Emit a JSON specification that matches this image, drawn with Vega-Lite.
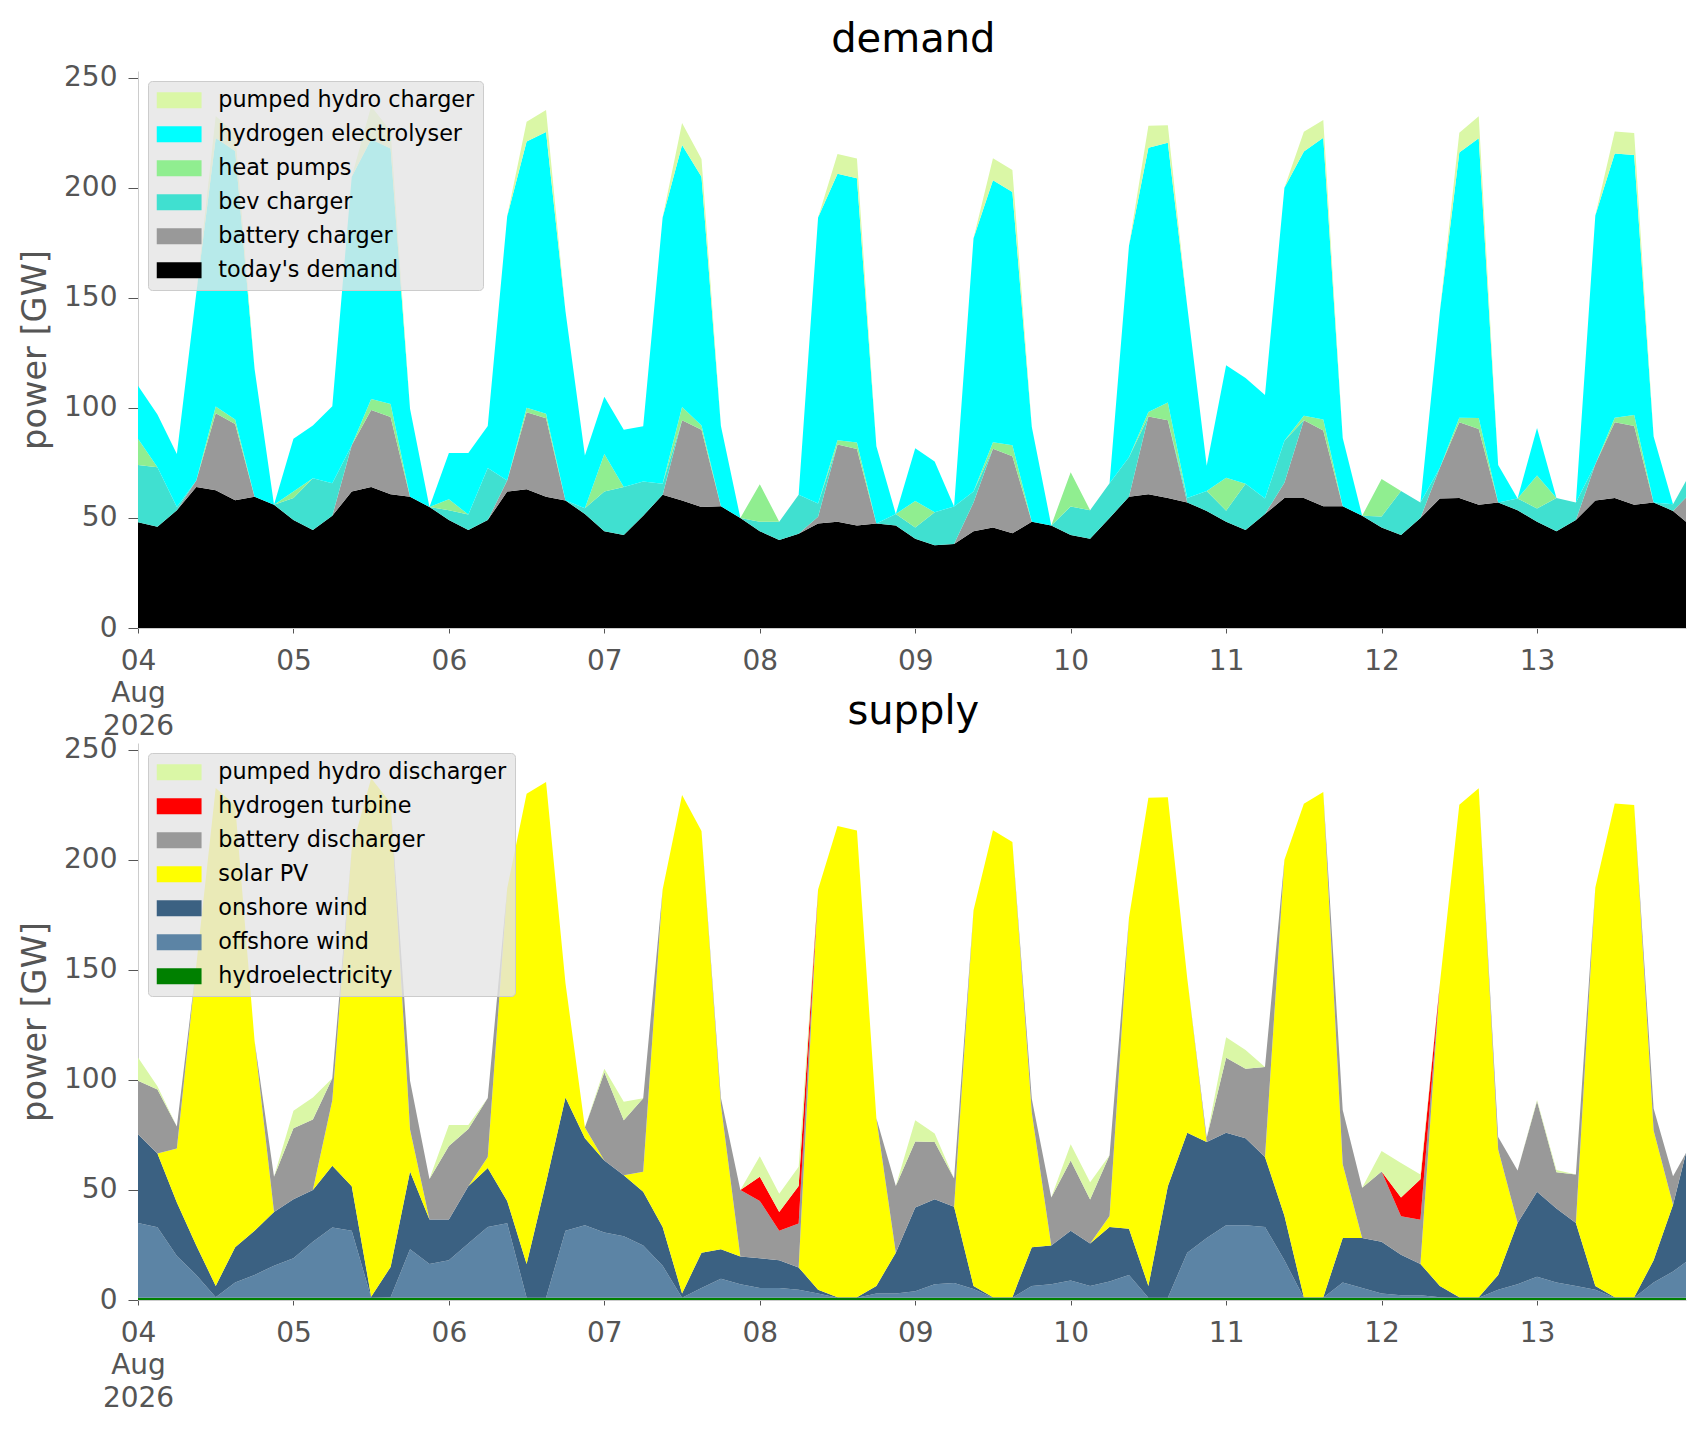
{
  "$schema": "https://vega.github.io/schema/vega-lite/v6.json",
  "background": "white",
  "padding": {"left": 18, "top": 20, "right": 10, "bottom": 10},
  "config": {
    "font": "DejaVu Sans",
    "view": {"stroke": null},
    "title": {"fontSize": 40, "fontWeight": "normal", "color": "#000000", "anchor": "middle", "offset": 3.3, "dx": 61, "baseline": "alphabetic", "frame": "bounds"},
    "axis": {"grid": false, "labelFont": "DejaVu Sans", "titleFont": "DejaVu Sans", "labelFontSize": 28, "titleFontSize": 33.6, "titleFontWeight": "normal", "labelColor": "#555555", "titleColor": "#555555", "tickColor": "#555555", "domainColor": "#cccccc", "zindex": 1},
    "axisY": {"tickSize": 10, "labelPadding": 11, "titlePadding": 11, "labelFlush": false},
    "axisX": {"tickCount": {"interval": "day", "step": 1}, "tickSize": 5, "labelPadding": 14.3, "labelLineHeight": 32.5, "labelFlush": false, "labelOverlap": false, "labelAngle": 0,
      "labelExpr": "timeFormat(datum.value, '%d') == '04' ? [timeFormat(datum.value, '%d'), timeFormat(datum.value, '%b'), timeFormat(datum.value, '%Y')] : timeFormat(datum.value, '%d')"},
    "legend": {"orient": "top-left", "offset": 10, "padding": 8, "fillColor": "rgba(229,229,229,0.8)", "strokeColor": "#cccccc", "cornerRadius": 4,
      "labelFontSize": 22.3, "labelColor": "#000000", "labelFont": "DejaVu Sans", "labelLimit": 0, "labelOffset": 28,
      "symbolType": "M-2.8,-1H2.8V1H-2.8Z", "symbolSize": 256, "symbolOffset": 12, "symbolStrokeWidth": 0, "symbolOpacity": 1, "rowPadding": 11, "title": null}
  },
  "datasets": {
    "series": [
      {"k": "D", "series": "today's demand", "o": 0},
      {"k": "B", "series": "battery charger", "o": 1},
      {"k": "V", "series": "bev charger", "o": 2},
      {"k": "H", "series": "heat pumps", "o": 3},
      {"k": "E", "series": "hydrogen electrolyser", "o": 4},
      {"k": "P", "series": "pumped hydro charger", "o": 5},
      {"k": "HY", "series": "hydroelectricity", "o": 0},
      {"k": "OF", "series": "offshore wind", "o": 1},
      {"k": "ON", "series": "onshore wind", "o": 2},
      {"k": "S", "series": "solar PV", "o": 3},
      {"k": "BD", "series": "battery discharger", "o": 4},
      {"k": "HT", "series": "hydrogen turbine", "o": 5},
      {"k": "PD", "series": "pumped hydro discharger", "o": 6}
    ],
    "rows": [
      {"t": "2026-08-04T00:00", "D": 48, "B": 0, "V": 26, "H": 12, "E": 24, "P": 0, "HY": 1, "OF": 34, "ON": 40.3, "S": 0, "BD": 24.3, "HT": 0, "PD": 10.5},
      {"t": "2026-08-04T03:00", "D": 46, "B": 0, "V": 27, "H": 0, "E": 24, "P": 0, "HY": 1, "OF": 32, "ON": 33.6, "S": 0, "BD": 29, "HT": 0, "PD": 1.5},
      {"t": "2026-08-04T06:00", "D": 53.5, "B": 0, "V": 1.5, "H": 0, "E": 24, "P": 0, "HY": 1, "OF": 19, "ON": 24.3, "S": 24.5, "BD": 10, "HT": 0, "PD": 0},
      {"t": "2026-08-04T09:00", "D": 64, "B": 3, "V": 0, "H": 0, "E": 85, "P": 0, "HY": 1, "OF": 10.4, "ON": 13.4, "S": 127.2, "BD": 0, "HT": 0, "PD": 0},
      {"t": "2026-08-04T12:00", "D": 62.6, "B": 35, "V": 0, "H": 3, "E": 122, "P": 10, "HY": 1, "OF": 0.3, "ON": 5.1, "S": 226.2, "BD": 0, "HT": 0, "PD": 0},
      {"t": "2026-08-04T15:00", "D": 58, "B": 34.7, "V": 0, "H": 2, "E": 122, "P": 8, "HY": 1, "OF": 7, "ON": 16, "S": 200.7, "BD": 0, "HT": 0, "PD": 0},
      {"t": "2026-08-04T18:00", "D": 59.6, "B": 0, "V": 0, "H": 0, "E": 58, "P": 0, "HY": 1, "OF": 10.4, "ON": 20.1, "S": 86.1, "BD": 0, "HT": 0, "PD": 0},
      {"t": "2026-08-04T21:00", "D": 56, "B": 0, "V": 0, "H": 0, "E": 0, "P": 0, "HY": 1, "OF": 14.6, "ON": 24.4, "S": 0, "BD": 16, "HT": 0, "PD": 0},
      {"t": "2026-08-05T00:00", "D": 49, "B": 0, "V": 10, "H": 3, "E": 24, "P": 0, "HY": 1, "OF": 18, "ON": 26.8, "S": 0, "BD": 32.2, "HT": 0, "PD": 8},
      {"t": "2026-08-05T03:00", "D": 44.5, "B": 0, "V": 23.5, "H": 0, "E": 24, "P": 0, "HY": 1, "OF": 25.5, "ON": 23.5, "S": 0, "BD": 32, "HT": 0, "PD": 10},
      {"t": "2026-08-05T06:00", "D": 51, "B": 0, "V": 14.7, "H": 0, "E": 35, "P": 0, "HY": 1, "OF": 31.9, "ON": 28.1, "S": 29.7, "BD": 10, "HT": 0, "PD": 0},
      {"t": "2026-08-05T09:00", "D": 62, "B": 21, "V": 0, "H": 0, "E": 122, "P": 0, "HY": 1, "OF": 30.5, "ON": 20.2, "S": 153.3, "BD": 0, "HT": 0, "PD": 0},
      {"t": "2026-08-05T12:00", "D": 64, "B": 35, "V": 0, "H": 5, "E": 118, "P": 15, "HY": 1, "OF": 0, "ON": 0.5, "S": 235.5, "BD": 0, "HT": 0, "PD": 0},
      {"t": "2026-08-05T15:00", "D": 60.8, "B": 35, "V": 0, "H": 6, "E": 116, "P": 8, "HY": 1, "OF": 0.3, "ON": 13.7, "S": 210.8, "BD": 0, "HT": 0, "PD": 0},
      {"t": "2026-08-05T18:00", "D": 59.6, "B": 0, "V": 0, "H": 0, "E": 40, "P": 0, "HY": 1, "OF": 22, "ON": 35.4, "S": 19, "BD": 22.2, "HT": 0, "PD": 0},
      {"t": "2026-08-05T21:00", "D": 55, "B": 0, "V": 0, "H": 0, "E": 0, "P": 0, "HY": 1, "OF": 15.4, "ON": 20.2, "S": 0, "BD": 18.4, "HT": 0, "PD": 0},
      {"t": "2026-08-06T00:00", "D": 49, "B": 0, "V": 4.5, "H": 5, "E": 21, "P": 0, "HY": 1, "OF": 17, "ON": 18.6, "S": 0, "BD": 33.4, "HT": 0, "PD": 9.5},
      {"t": "2026-08-06T03:00", "D": 44.5, "B": 0, "V": 7, "H": 0, "E": 28, "P": 0, "HY": 1, "OF": 24.7, "ON": 26, "S": 0, "BD": 26, "HT": 0, "PD": 1.8},
      {"t": "2026-08-06T06:00", "D": 49, "B": 0, "V": 23.7, "H": 0, "E": 19, "P": 0, "HY": 1, "OF": 32.2, "ON": 26.8, "S": 5, "BD": 26.7, "HT": 0, "PD": 0},
      {"t": "2026-08-06T09:00", "D": 62, "B": 5, "V": 0, "H": 0, "E": 120, "P": 0, "HY": 1, "OF": 33.9, "ON": 10.1, "S": 142, "BD": 0, "HT": 0, "PD": 0},
      {"t": "2026-08-06T12:00", "D": 63, "B": 35, "V": 0, "H": 2, "E": 121, "P": 9, "HY": 1, "OF": 0, "ON": 15.4, "S": 213.6, "BD": 0, "HT": 0, "PD": 0},
      {"t": "2026-08-06T15:00", "D": 59.6, "B": 35.7, "V": 0, "H": 2, "E": 128, "P": 10, "HY": 1, "OF": 0, "ON": 52.4, "S": 181.9, "BD": 0, "HT": 0, "PD": 0},
      {"t": "2026-08-06T18:00", "D": 57.9, "B": 0, "V": 0, "H": 0, "E": 86, "P": 0, "HY": 1, "OF": 30.5, "ON": 60.5, "S": 51.9, "BD": 0, "HT": 0, "PD": 0},
      {"t": "2026-08-06T21:00", "D": 51.8, "B": 0, "V": 2.6, "H": 0, "E": 24, "P": 0, "HY": 1, "OF": 33, "ON": 39.5, "S": 4.9, "BD": 0, "HT": 0, "PD": 0},
      {"t": "2026-08-07T00:00", "D": 44, "B": 0, "V": 18, "H": 17, "E": 26, "P": 0, "HY": 1, "OF": 29.7, "ON": 32.7, "S": 0, "BD": 40, "HT": 0, "PD": 1.6},
      {"t": "2026-08-07T03:00", "D": 42.2, "B": 0, "V": 21.8, "H": 0, "E": 26, "P": 0, "HY": 1, "OF": 28, "ON": 27.7, "S": 0, "BD": 25, "HT": 0, "PD": 8.3},
      {"t": "2026-08-07T06:00", "D": 51, "B": 0, "V": 15.6, "H": 0, "E": 25, "P": 0, "HY": 1, "OF": 23.8, "ON": 24.4, "S": 9, "BD": 33.4, "HT": 0, "PD": 0},
      {"t": "2026-08-07T09:00", "D": 60.5, "B": 0, "V": 5, "H": 0, "E": 121, "P": 0, "HY": 1, "OF": 14.6, "ON": 17.6, "S": 153.3, "BD": 0, "HT": 0, "PD": 0},
      {"t": "2026-08-07T12:00", "D": 57.9, "B": 36.5, "V": 0, "H": 6, "E": 119, "P": 10, "HY": 1, "OF": 0, "ON": 2, "S": 226.4, "BD": 0, "HT": 0, "PD": 0},
      {"t": "2026-08-07T15:00", "D": 55, "B": 35, "V": 0, "H": 2, "E": 113, "P": 8, "HY": 1, "OF": 4.5, "ON": 16, "S": 191.5, "BD": 0, "HT": 0, "PD": 0},
      {"t": "2026-08-07T18:00", "D": 55.3, "B": 0, "V": 0, "H": 0, "E": 36.5, "P": 0, "HY": 1, "OF": 8.7, "ON": 13.3, "S": 65.6, "BD": 3.2, "HT": 0, "PD": 0},
      {"t": "2026-08-07T21:00", "D": 50, "B": 0, "V": 0, "H": 0, "E": 0, "P": 0, "HY": 1, "OF": 6.2, "ON": 12.6, "S": 0, "BD": 30.2, "HT": 0, "PD": 0},
      {"t": "2026-08-08T00:00", "D": 44, "B": 0, "V": 4.3, "H": 17, "E": 0, "P": 0, "HY": 1, "OF": 4.5, "ON": 13.5, "S": 0, "BD": 26, "HT": 11, "PD": 9.3},
      {"t": "2026-08-08T03:00", "D": 40, "B": 0, "V": 8.3, "H": 0, "E": 0, "P": 0, "HY": 1, "OF": 4.5, "ON": 12.5, "S": 0, "BD": 13.5, "HT": 8.5, "PD": 8.3},
      {"t": "2026-08-08T06:00", "D": 42.8, "B": 0, "V": 17.7, "H": 0, "E": 0, "P": 0, "HY": 1, "OF": 3.7, "ON": 10.1, "S": 0, "BD": 20, "HT": 17, "PD": 8.7},
      {"t": "2026-08-08T09:00", "D": 47.5, "B": 3, "V": 6, "H": 0, "E": 130, "P": 0, "HY": 1, "OF": 2, "ON": 1.7, "S": 181.8, "BD": 0, "HT": 0, "PD": 0},
      {"t": "2026-08-08T12:00", "D": 48.3, "B": 35, "V": 0, "H": 2, "E": 121, "P": 9, "HY": 1, "OF": 0, "ON": 0.3, "S": 214, "BD": 0, "HT": 0, "PD": 0},
      {"t": "2026-08-08T15:00", "D": 46.6, "B": 34.7, "V": 0, "H": 3, "E": 120, "P": 9, "HY": 1, "OF": 0, "ON": 0.3, "S": 212, "BD": 0, "HT": 0, "PD": 0},
      {"t": "2026-08-08T18:00", "D": 47.5, "B": 0, "V": 0, "H": 0, "E": 35, "P": 0, "HY": 1, "OF": 2, "ON": 3.4, "S": 76.1, "BD": 0, "HT": 0, "PD": 0},
      {"t": "2026-08-08T21:00", "D": 46.6, "B": 0, "V": 5.2, "H": 0, "E": 0, "P": 0, "HY": 1, "OF": 2, "ON": 18.5, "S": 0, "BD": 30.3, "HT": 0, "PD": 0},
      {"t": "2026-08-09T00:00", "D": 40.5, "B": 0, "V": 5.2, "H": 12, "E": 24, "P": 0, "HY": 1, "OF": 3, "ON": 38, "S": 0, "BD": 30, "HT": 0, "PD": 9.7},
      {"t": "2026-08-09T03:00", "D": 37.6, "B": 0, "V": 15, "H": 0, "E": 23, "P": 0, "HY": 1, "OF": 6.2, "ON": 38.6, "S": 0, "BD": 26, "HT": 0, "PD": 3.8},
      {"t": "2026-08-09T06:00", "D": 38.2, "B": 0, "V": 17, "H": 0, "E": 0, "P": 0, "HY": 1, "OF": 6.7, "ON": 34.7, "S": 0, "BD": 12.8, "HT": 0, "PD": 0},
      {"t": "2026-08-09T09:00", "D": 44, "B": 13, "V": 5, "H": 0, "E": 115, "P": 0, "HY": 1, "OF": 4, "ON": 1.4, "S": 170.6, "BD": 0, "HT": 0, "PD": 0},
      {"t": "2026-08-09T12:00", "D": 45.7, "B": 35.7, "V": 0, "H": 3, "E": 119, "P": 10, "HY": 1, "OF": 0, "ON": 0.3, "S": 212.1, "BD": 0, "HT": 0, "PD": 0},
      {"t": "2026-08-09T15:00", "D": 43, "B": 35, "V": 0, "H": 5, "E": 115, "P": 10, "HY": 1, "OF": 0, "ON": 0.3, "S": 206.7, "BD": 0, "HT": 0, "PD": 0},
      {"t": "2026-08-09T18:00", "D": 48.3, "B": 0, "V": 0, "H": 0, "E": 43, "P": 0, "HY": 1, "OF": 5.4, "ON": 17.6, "S": 61, "BD": 6.3, "HT": 0, "PD": 0},
      {"t": "2026-08-09T21:00", "D": 46.6, "B": 0, "V": 0, "H": 0, "E": 0, "P": 0, "HY": 1, "OF": 6.2, "ON": 17.6, "S": 0, "BD": 21.8, "HT": 0, "PD": 0},
      {"t": "2026-08-10T00:00", "D": 42.2, "B": 0, "V": 13, "H": 15.6, "E": 0, "P": 0, "HY": 1, "OF": 7.9, "ON": 22.6, "S": 0, "BD": 31.9, "HT": 0, "PD": 7.4},
      {"t": "2026-08-10T03:00", "D": 40.5, "B": 0, "V": 13, "H": 0, "E": 0, "P": 0, "HY": 1, "OF": 5.4, "ON": 19.3, "S": 0, "BD": 20, "HT": 0, "PD": 7.8},
      {"t": "2026-08-10T06:00", "D": 50, "B": 0, "V": 15.7, "H": 0, "E": 0, "P": 0, "HY": 1, "OF": 7.4, "ON": 24.8, "S": 5, "BD": 27.5, "HT": 0, "PD": 0},
      {"t": "2026-08-10T09:00", "D": 59.6, "B": 0, "V": 18, "H": 0, "E": 96, "P": 0, "HY": 1, "OF": 10.4, "ON": 21, "S": 141.2, "BD": 0, "HT": 0, "PD": 0},
      {"t": "2026-08-10T12:00", "D": 60.8, "B": 35.3, "V": 0, "H": 2, "E": 120, "P": 10, "HY": 1, "OF": 0, "ON": 5.4, "S": 221.7, "BD": 0, "HT": 0, "PD": 0},
      {"t": "2026-08-10T15:00", "D": 59, "B": 35.4, "V": 0, "H": 8, "E": 118, "P": 8, "HY": 1, "OF": 0, "ON": 50.7, "S": 176.7, "BD": 0, "HT": 0, "PD": 0},
      {"t": "2026-08-10T18:00", "D": 57, "B": 0, "V": 2, "H": 0, "E": 87, "P": 0, "HY": 1, "OF": 20.5, "ON": 54.5, "S": 70, "BD": 0, "HT": 0, "PD": 0},
      {"t": "2026-08-10T21:00", "D": 53.2, "B": 0, "V": 9, "H": 0, "E": 11.5, "P": 0, "HY": 1, "OF": 27.2, "ON": 43.6, "S": 0, "BD": 1.9, "HT": 0, "PD": 0},
      {"t": "2026-08-11T00:00", "D": 48.3, "B": 0, "V": 5, "H": 15, "E": 51, "P": 0, "HY": 1, "OF": 33, "ON": 42, "S": 0, "BD": 34, "HT": 0, "PD": 9.3},
      {"t": "2026-08-11T03:00", "D": 44.5, "B": 0, "V": 21, "H": 0, "E": 48, "P": 0, "HY": 1, "OF": 33, "ON": 39.5, "S": 0, "BD": 31.5, "HT": 0, "PD": 8.5},
      {"t": "2026-08-11T06:00", "D": 51.8, "B": 0, "V": 7, "H": 0, "E": 47, "P": 0, "HY": 1, "OF": 32.2, "ON": 31.8, "S": 0, "BD": 40.8, "HT": 0, "PD": 0},
      {"t": "2026-08-11T09:00", "D": 59, "B": 7, "V": 19, "H": 0, "E": 115, "P": 0, "HY": 1, "OF": 17, "ON": 20.3, "S": 161.7, "BD": 0, "HT": 0, "PD": 0},
      {"t": "2026-08-11T12:00", "D": 59, "B": 35.4, "V": 0, "H": 2, "E": 120, "P": 9, "HY": 1, "OF": 0, "ON": 0.3, "S": 224.1, "BD": 0, "HT": 0, "PD": 0},
      {"t": "2026-08-11T15:00", "D": 55.3, "B": 34.4, "V": 0, "H": 5, "E": 128, "P": 8, "HY": 1, "OF": 0, "ON": 0.3, "S": 229.4, "BD": 0, "HT": 0, "PD": 0},
      {"t": "2026-08-11T18:00", "D": 55.3, "B": 0, "V": 0, "H": 0, "E": 31, "P": 0, "HY": 1, "OF": 7, "ON": 20.2, "S": 33.5, "BD": 24.6, "HT": 0, "PD": 0},
      {"t": "2026-08-11T21:00", "D": 51, "B": 0, "V": 0, "H": 0, "E": 0, "P": 0, "HY": 1, "OF": 4.5, "ON": 22.7, "S": 0, "BD": 22.8, "HT": 0, "PD": 0},
      {"t": "2026-08-12T00:00", "D": 45.7, "B": 0, "V": 5, "H": 17, "E": 0, "P": 0, "HY": 1, "OF": 2, "ON": 23.5, "S": 0, "BD": 31.9, "HT": 0, "PD": 9.3},
      {"t": "2026-08-12T03:00", "D": 42.2, "B": 0, "V": 20, "H": 0, "E": 0, "P": 0, "HY": 1, "OF": 1.2, "ON": 18.4, "S": 0, "BD": 17.4, "HT": 8.6, "PD": 15.6},
      {"t": "2026-08-12T06:00", "D": 50, "B": 0, "V": 7, "H": 0, "E": 0, "P": 0, "HY": 1, "OF": 1.2, "ON": 14.2, "S": 0, "BD": 20, "HT": 18.4, "PD": 2.2},
      {"t": "2026-08-12T09:00", "D": 58.8, "B": 14, "V": 0, "H": 0, "E": 71, "P": 0, "HY": 1, "OF": 0.3, "ON": 5.1, "S": 137.4, "BD": 0, "HT": 0, "PD": 0},
      {"t": "2026-08-12T12:00", "D": 59, "B": 34.5, "V": 0, "H": 2, "E": 120.5, "P": 9, "HY": 1, "OF": 0, "ON": 0.3, "S": 223.7, "BD": 0, "HT": 0, "PD": 0},
      {"t": "2026-08-12T15:00", "D": 56, "B": 34.4, "V": 0, "H": 5, "E": 127, "P": 10, "HY": 1, "OF": 0, "ON": 0.3, "S": 231.1, "BD": 0, "HT": 0, "PD": 0},
      {"t": "2026-08-12T18:00", "D": 57, "B": 0, "V": 0, "H": 0, "E": 17, "P": 0, "HY": 1, "OF": 3.7, "ON": 6.7, "S": 57, "BD": 5.6, "HT": 0, "PD": 0},
      {"t": "2026-08-12T21:00", "D": 53.5, "B": 0, "V": 5.3, "H": 0, "E": 0, "P": 0, "HY": 1, "OF": 6.2, "ON": 27.8, "S": 0, "BD": 23.8, "HT": 0, "PD": 0},
      {"t": "2026-08-13T00:00", "D": 48.3, "B": 0, "V": 6, "H": 15, "E": 21.5, "P": 0, "HY": 1, "OF": 9.6, "ON": 38.6, "S": 0, "BD": 41.1, "HT": 0, "PD": 0.5},
      {"t": "2026-08-13T03:00", "D": 44, "B": 0, "V": 15, "H": 0, "E": 0, "P": 0, "HY": 1, "OF": 7, "ON": 33.6, "S": 0, "BD": 16.4, "HT": 0, "PD": 1},
      {"t": "2026-08-13T06:00", "D": 49, "B": 0, "V": 8, "H": 0, "E": 0, "P": 0, "HY": 1, "OF": 5.4, "ON": 28.6, "S": 0, "BD": 22, "HT": 0, "PD": 0},
      {"t": "2026-08-13T09:00", "D": 57.9, "B": 16.5, "V": 0, "H": 0, "E": 113, "P": 0, "HY": 1, "OF": 3.7, "ON": 1.7, "S": 181, "BD": 0, "HT": 0, "PD": 0},
      {"t": "2026-08-13T12:00", "D": 59, "B": 34.5, "V": 0, "H": 2, "E": 120, "P": 10, "HY": 1, "OF": 0, "ON": 0.3, "S": 224.2, "BD": 0, "HT": 0, "PD": 0},
      {"t": "2026-08-13T15:00", "D": 56, "B": 35.8, "V": 0, "H": 5, "E": 118, "P": 10, "HY": 1, "OF": 0, "ON": 0.3, "S": 223.5, "BD": 0, "HT": 0, "PD": 0},
      {"t": "2026-08-13T18:00", "D": 57, "B": 0, "V": 0, "H": 0, "E": 30, "P": 0, "HY": 1, "OF": 7, "ON": 10, "S": 59, "BD": 10, "HT": 0, "PD": 0},
      {"t": "2026-08-13T21:00", "D": 53.2, "B": 0, "V": 3, "H": 0, "E": 0, "P": 0, "HY": 1, "OF": 12, "ON": 30.3, "S": 0, "BD": 12.9, "HT": 0, "PD": 0},
      {"t": "2026-08-13T23:00", "D": 48.3, "B": 11, "V": 7.5, "H": 0, "E": 0, "P": 0, "HY": 1, "OF": 16.3, "ON": 49.5, "S": 0, "BD": 0, "HT": 0, "PD": 0}
    ]
  },
  "bounds": "flush",
  "spacing": 115,
  "resolve": {"scale": {"color": "independent"}, "legend": {"color": "independent"}},
  "vconcat": [
    {
      "title": "demand",
      "width": 1548,
      "height": 557,
      "data": {"name": "rows"},
      "transform": [
        {"fold": ["D", "B", "V", "H", "E", "P"], "as": ["k", "power"]},
        {"lookup": "k", "from": {"data": {"name": "series"}, "key": "k", "fields": ["series", "o"]}}
      ],
      "mark": {"type": "area", "opacity": 1, "interpolate": "linear"},
      "encoding": {
        "x": {"field": "t", "type": "temporal", "title": null, "scale": {"nice": false, "padding": 0}},
        "y": {"field": "power", "type": "quantitative", "stack": "zero", "title": "power [GW]", "scale": {"domain": [0, 253], "nice": false}, "axis": {"values": [0, 50, 100, 150, 200, 250]}},
        "color": {
          "field": "series",
          "type": "nominal",
          "scale": {
            "domain": ["pumped hydro charger", "hydrogen electrolyser", "heat pumps", "bev charger", "battery charger", "today's demand"],
            "range": ["#DAF7A6", "#00FFFF", "#90EE90", "#40E0D0", "#999999", "#000000"]
          },
          "legend": {"title": null}
        },
        "order": {"field": "o", "type": "quantitative", "sort": "ascending"}
      }
    },
    {
      "title": "supply",
      "width": 1548,
      "height": 557,
      "data": {"name": "rows"},
      "transform": [
        {"fold": ["HY", "OF", "ON", "S", "BD", "HT", "PD"], "as": ["k", "power"]},
        {"lookup": "k", "from": {"data": {"name": "series"}, "key": "k", "fields": ["series", "o"]}}
      ],
      "mark": {"type": "area", "opacity": 1, "interpolate": "linear"},
      "encoding": {
        "x": {"field": "t", "type": "temporal", "title": null, "scale": {"nice": false, "padding": 0}},
        "y": {"field": "power", "type": "quantitative", "stack": "zero", "title": "power [GW]", "scale": {"domain": [0, 253], "nice": false}, "axis": {"values": [0, 50, 100, 150, 200, 250]}},
        "color": {
          "field": "series",
          "type": "nominal",
          "scale": {
            "domain": ["pumped hydro discharger", "hydrogen turbine", "battery discharger", "solar PV", "onshore wind", "offshore wind", "hydroelectricity"],
            "range": ["#DAF7A6", "#FF0000", "#999999", "#FFFF00", "#3B6182", "#5C84A5", "#008000"]
          },
          "legend": {"title": null}
        },
        "order": {"field": "o", "type": "quantitative", "sort": "ascending"}
      }
    }
  ]
}
